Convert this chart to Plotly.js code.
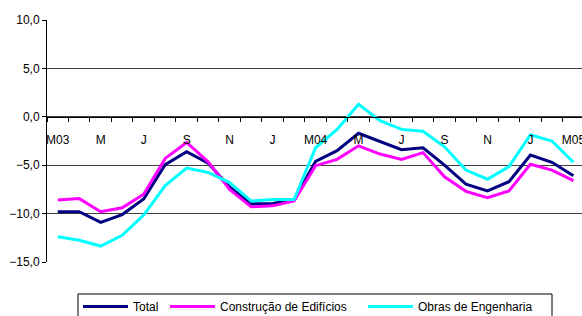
<!DOCTYPE html>
<html>
<head>
<meta charset="utf-8">
<script src="https://cdn.plot.ly/plotly-3.0.1.min.js"></script>
<style>html,body{margin:0;padding:0;background:#fff;}#chart{width:582px;height:316px;}</style>
</head>
<body>
<div id="chart"></div>
<script>
const months = ['M03','A','M','J','J','A','S','O','N','D','J','F','M04','A','M','J','J','A','S','O','N','D','J','F','M05'];
const seriesNames = ['Total', 'Construção de Edifícios', 'Obras de Engenharia'];
const total = [-9.8,-9.8,-10.9,-10.1,-8.5,-4.95,-3.6,-4.8,-7.25,-9.0,-8.95,-8.6,-4.6,-3.5,-1.7,-2.55,-3.4,-3.2,-5.0,-6.95,-7.65,-6.7,-3.95,-4.7,-6.1];
const edificios = [-8.6,-8.45,-9.8,-9.4,-8.0,-4.3,-2.65,-4.65,-7.5,-9.3,-9.2,-8.7,-5.05,-4.4,-3.0,-3.85,-4.4,-3.7,-6.2,-7.7,-8.35,-7.65,-4.9,-5.5,-6.6];
const engenharia = [-12.4,-12.75,-13.35,-12.25,-10.15,-7.1,-5.3,-5.75,-6.8,-8.7,-8.55,-8.55,-3.2,-1.3,1.3,-0.4,-1.3,-1.5,-3.1,-5.5,-6.45,-5.15,-1.85,-2.5,-4.7];

const xs = months.map((_, i) => i);
const labelIdx = xs.filter(i => i % 2 === 0);
const boundaries = months.map((_, i) => i - 0.5).concat([months.length - 0.5]);

const colors = ['#000080', '#FF00FF', '#00FFFF'];
const values = [total, edificios, engenharia];
const traces = values.map((v, k) => ({
  x: xs, y: v, type: 'scatter', mode: 'lines', name: seriesNames[k],
  line: {color: colors[k], width: 3}, hoverinfo: 'skip', showlegend: false
}));
// empty helper trace so the tick-mark axis is built
traces.unshift({x: [], y: [], xaxis: 'x2', yaxis: 'y', type: 'scatter', mode: 'lines', showlegend: false, hoverinfo: 'skip'});

// layout geometry (pixels)
const W = 582, H = 316, ML = 47, MR = 0, MT = 20, MB = 54;
const PW = W - ML - MR, PH = H - MT - MB;
const px2x = p => (p - ML) / PW;
const px2y = p => (H - MB - p) / PH;
const xRange = [-0.5, 24.4];

const font = {family: 'Liberation Sans, Arial, sans-serif', size: 12, color: '#000'};

// custom legend (Excel style with long line samples)
const legendBox = {x0: 78, x1: 552, y0: 294, y1: 321};
const legendRowY = 306.5;
const legendSampleX = [83, 170, 368];
const sampleLen = 45;
const shapes = [{
  type: 'rect', xref: 'paper', yref: 'paper',
  x0: px2x(legendBox.x0), x1: px2x(legendBox.x1), y0: px2y(legendBox.y0), y1: px2y(legendBox.y1),
  line: {color: '#000', width: 1}, fillcolor: '#fff', layer: 'above'
}];
const annotations = [];
seriesNames.forEach((name, k) => {
  shapes.push({
    type: 'line', xref: 'paper', yref: 'paper',
    x0: px2x(legendSampleX[k]), x1: px2x(legendSampleX[k] + sampleLen),
    y0: px2y(legendRowY), y1: px2y(legendRowY),
    line: {color: colors[k], width: 3}, layer: 'above'
  });
  annotations.push({
    xref: 'paper', yref: 'paper', x: px2x(legendSampleX[k] + sampleLen + 3), y: px2y(legendRowY),
    xanchor: 'left', yanchor: 'middle', text: name, showarrow: false, font: font
  });
});

const layout = {
  width: W, height: H,
  margin: {l: ML, r: MR, t: MT, b: MB},
  paper_bgcolor: '#fff', plot_bgcolor: '#fff',
  font: font,
  separators: ',.',
  showlegend: false,
  xaxis: {
    range: xRange, anchor: 'free', position: 0.6,
    showgrid: false, zeroline: false,
    showline: true, linecolor: '#000', linewidth: 1,
    tickmode: 'array', tickvals: labelIdx, ticktext: labelIdx.map(i => months[i]),
    ticks: '', ticklabelstandoff: 12, ticklabeloverflow: 'allow',
    tickfont: font, fixedrange: true
  },
  xaxis2: {
    range: xRange, overlaying: 'x', anchor: 'free', position: 0.6, side: 'bottom',
    showgrid: false, zeroline: false, showline: false,
    tickmode: 'array', tickvals: boundaries, ticks: 'outside', ticklen: 4,
    tickcolor: '#000', tickwidth: 1, showticklabels: false, fixedrange: true
  },
  yaxis: {
    range: [-15, 10], tickmode: 'linear', tick0: -15, dtick: 5, tickformat: '.1f',
    showgrid: true, gridcolor: '#404040', gridwidth: 1, zeroline: false,
    showline: true, linecolor: '#000', linewidth: 1,
    ticks: 'outside', ticklen: 4, tickcolor: '#000',
    tickfont: font, fixedrange: true
  },
  shapes: shapes,
  annotations: annotations
};
Plotly.newPlot('chart', traces, layout, {staticPlot: true, displayModeBar: false});
</script>
</body>
</html>
